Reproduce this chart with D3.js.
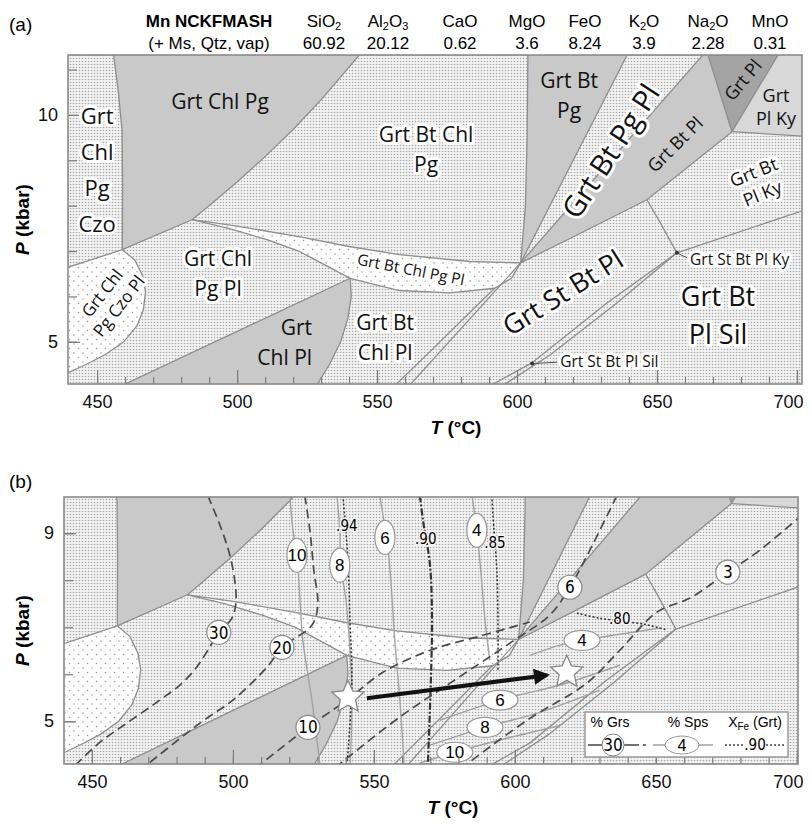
<!DOCTYPE html>
<html>
<head>
<meta charset="utf-8">
<script src="https://cdn.jsdelivr.net/npm/d3@7"></script>
<style>
  body { margin: 0; background: #fff; }
  svg { display: block; font-family: "Liberation Sans", Arial, sans-serif; }
  .field { font-family: "Open Sans", "Noto Sans", sans-serif; fill: #111; }
  .cond { font-family: "Liberation Sans Narrow", "DejaVu Sans Condensed", "Roboto", sans-serif; }
</style>
</head>
<body>
<div id="chart"></div>
<script>
// bulk composition (wt%), "_" marks a subscript digit
const oxides = ["SiO_2", "Al_2O_3", "CaO", "MgO", "FeO", "K_2O", "Na_2O", "MnO"];
const oxideWt = ["60.92", "20.12", "0.62", "3.6", "8.24", "3.9", "2.28", "0.31"];
const headerX = [324, 388, 460, 527, 585, 644, 708, 770];

const tLabels = [450, 500, 550, 600, 650, 700];
const tMinor = d3.range(450, 701, 10);

// invariant points [T °C, P kbar]
const ptA = [459.0, 7.03];
const ptB = [483.9, 7.69];
const ptC = [540.4, 6.40];
const ptD = [601.3, 6.74];
const ptE = [657.1, 6.96];
const ptF = [676.8, 9.63];
const ptG = [646.4, 8.13];

// phase boundaries
const czoOut = [[455.7, 11.4], [457.5, 10.55], [458.9, 9.67], [459.1, 8.5], ptA];
const czoPlTop = [[439, 6.63], ptA];
const czoPlCurve = [ptA, [463.5, 6.8], [466.3, 6.45], [467.3, 6.1], [466.5, 5.7], [464.2, 5.35], [459.5, 5.0], [453, 4.72], [446, 4.5], [439, 4.3]];
const plInLeft = [ptA, ptB];
const chlPgOut = [ptB, [490, 8.0], [500, 8.52], [510, 9.08], [520, 9.68], [530, 10.33], [544.8, 11.4]];
const bandTop = [ptB, [500, 7.55], [522.5, 7.31], [540, 7.1], [558, 6.92], [583, 6.77], ptD];
const bandBottom = [ptB, [497, 7.5], [510.7, 7.25], [522, 7.0], [530, 6.74], ptC, [550, 6.25], [558, 6.13], [576, 6.08], [592, 6.18], [598, 6.4], ptD];
const chlPlLeft = [ptC, [457.6, 4.0]];
const chlPlRight = [ptC, [540.8, 6.0], [539.5, 5.5], [537, 5.0], [533, 4.5], [528, 4.0]];
const chlOut = [[555.8, 4.0], [570, 4.85], [585, 5.76], [592, 6.18]];
const stIn = [[561, 4.0], [580, 5.29], ptD, [620, 7.31], ptG];
const bgpLeft = [[603.9, 11.4], [603.6, 9.5], [603, 8.0], ptD];
const bgpRight = [[640, 11.4], ptD];
const bplLeft = [[667.5, 11.4], ptD];
const btOut = [[667.8, 11.4], ptF];
const plRight = [[694, 11.4], ptF];
const plKyBottom = [ptF, [702.5, 9.53]];
const kyIn = [ptF, ptG];
const stOutUp = [ptG, [651.1, 7.63], ptE];
const kySil = [ptE, [702.5, 7.9]];
const stOut = [ptE, [632, 5.85], [605.4, 4.54], [589.5, 4.0]];
const silOut = [ptE, [635, 5.82], [612, 4.72], [594, 4.0]];

const boundaries = [czoOut, czoPlTop, czoPlCurve, plInLeft, chlPgOut, bandTop, bandBottom,
  chlPlLeft, chlPlRight, chlOut, stIn, bgpLeft, bgpRight, bplLeft, btOut, plRight,
  plKyBottom, kyIn, stOutUp, kySil, stOut, silOut];

// shaded fields
const fields = [
  { kind: "dark", pts: [[455.7, 11.4], ...czoOut.slice(1), ...chlPgOut] },
  { kind: "sparse", pts: [...czoPlTop, ...czoPlCurve.slice(1)] },
  { kind: "sparse", pts: [...bandTop, ...bandBottom.slice(1, -1).reverse()] },
  { kind: "dark", pts: [...chlPlRight, [457.6, 4.0]] },
  { kind: "dark", pts: [...bgpLeft, [640, 11.4]] },
  { kind: "dark", pts: [[667.5, 11.4], ptD, [620, 7.31], ptG, ptF, [667.8, 11.4]] },
  { kind: "darker", pts: [[667.8, 11.4], ptF, [694, 11.4]] },
  { kind: "light", pts: [[694, 11.4], ptF, [702.5, 9.53], [702.5, 11.4]] }
];

// field names in panel (a)
const fieldLabels = [
  { lines: ["Grt", "Chl", "Pg", "Czo"], T: 450, P: 8.77, cls: "col", halo: 1 },
  { lines: ["Grt Chl Pg"], T: 493.9, P: 10.29, cls: "lg" },
  { lines: ["Grt Bt Chl", "Pg"], T: 567.5, P: 9.23, cls: "lg", halo: 1 },
  { lines: ["Grt Chl", "Pg Pl"], T: 493.2, P: 6.5, cls: "lg", halo: 1 },
  { lines: ["Grt", "Chl Pl"], T: 526.8, P: 4.98, cls: "lg", anchor: "end" },
  { lines: ["Grt Bt", "Chl Pl"], T: 552.9, P: 5.1, cls: "lg", halo: 1 },
  { lines: ["Grt Chl", "Pg Czo Pl"], T: 454.8, P: 5.93, cls: "mds", rot: -52, halo: 1 },
  { lines: ["Grt Bt Chl Pg Pl"], T: 562.1, P: 6.59, cls: "sm", rot: 11, halo: 1 },
  { lines: ["Grt Bt", "Pg"], T: 618.6, P: 10.42, cls: "lg" },
  { lines: ["Grt Bt Pg Pl"], T: 633.5, P: 9.2, cls: "xxl", rot: -57, halo: 1 },
  { lines: ["Grt Bt Pl"], T: 656.5, P: 9.35, cls: "md", rot: -45 },
  { lines: ["Grt Pl"], T: 680.7, P: 10.77, cls: "md", rot: -50 },
  { lines: ["Grt", "Pl Ky"], T: 692.5, P: 10.18, cls: "md" },
  { lines: ["Grt Bt", "Pl Ky"], T: 686.1, P: 8.5, cls: "md", rot: -22, halo: 1 },
  { lines: ["Grt St Bt Pl"], T: 616.4, P: 6.08, cls: "xl", rot: -32, halo: 1 },
  { lines: ["Grt Bt", "Pl Sil"], T: 671.8, P: 5.57, cls: "xl", halo: 1 },
  { lines: ["Grt St Bt Pl Ky"], T: 661.8, P: 6.81, cls: "sm", anchor: "start", halo: 1 },
  { lines: ["Grt St Bt Pl Sil"], T: 615.4, P: 4.56, cls: "sm", anchor: "start", halo: 1 }
];
const pointers = [[ptE, [660.8, 6.85]], [[605.4, 4.52], [614.3, 4.55]]];

// panel (b): isopleths
const grsLines = [
  { v: "30", at: [495, 6.89], pts: [[491.1, 9.8], [496.1, 9.06], [499.6, 8.36], [501.1, 7.57], [499.6, 7.19], [495, 6.89], [491.1, 6.51], [486.9, 6.13], [481.2, 5.77], [474.1, 5.45], [462.4, 4.96], [452.8, 4.55], [443, 4.0]] },
  { v: "20", at: [517.4, 6.57], pts: [[525.5, 9.8], [527.3, 9.06], [528.7, 8.21], [530.1, 7.47], [528, 7.04], [517.4, 6.57], [512.1, 6.15], [500, 5.45], [488.3, 4.96], [468, 4.0]] },
  { v: "10", at: [526.6, 4.87], pts: [[508, 4.0], [518.4, 4.49], [526.6, 4.87], [540.4, 5.45], [553.2, 6.04], [569.9, 6.51], [587.6, 6.81], [605.3, 7.11]] },
  { v: "6", at: [619.5, 7.85], pts: [[636.2, 9.8], [630.1, 9.06], [624.8, 8.43], [619.5, 7.85], [612.4, 7.26], [598.2, 6.66], [577, 5.81], [559.2, 5.09], [536, 4.0]] },
  { v: "3", at: [675.5, 8.17], pts: [[702, 9.4], [686.9, 8.64], [675.5, 8.17], [662.1, 7.62], [650.4, 7.32], [637.2, 6.51], [625.5, 5.81], [604.3, 5.02], [581, 4.0]] }
];
const spsLines = [
  { v: "10", at: [522.7, 8.53], up: 1, pts: [[520.2, 9.8], [521.3, 9.06], [522.7, 8.53], [523.8, 7.57], [524.8, 6.72], [528, 5.45], [531, 4.0]] },
  { v: "8", at: [537.9, 8.32], up: 1, pts: [[536.9, 9.8], [537.9, 9.06], [538.3, 8.32], [540.1, 7.57], [541.5, 6.51], [542.2, 5.45], [541.5, 4.0]] },
  { v: "6", at: [553.9, 8.91], up: 1, pts: [[552.1, 9.8], [553.5, 9.28], [554.6, 8.91], [556, 8.0], [557.4, 6.72], [559.2, 5.45], [560.8, 4.0]] },
  { v: "4", at: [586.5, 9.06], up: 1, pts: [[584.8, 9.8], [585.8, 9.38], [586.5, 9.06], [587.9, 8.21], [589.4, 7.15], [591.1, 6.3]] },
  { v: "4", at: [623.8, 6.72], pts: [[605.3, 6.4], [616, 6.62], [623.8, 6.72], [637.2, 6.85], [651.4, 6.98]] },
  { v: "6", at: [594.7, 5.45], pts: [[573.4, 5.02], [594.7, 5.45], [616, 5.77], [637.2, 6.19]] },
  { v: "8", at: [589.4, 4.87], pts: [[569.9, 4.49], [589.4, 4.87], [608.9, 5.19], [630.1, 5.66]] },
  { v: "10", at: [578.7, 4.34], pts: [[566.3, 4.11], [578.7, 4.34], [594.7, 4.6], [616, 4.91]] }
];
const xfeLines = [
  { v: ".94", at: [540.4, 9.17], pts: [[539, 9.8], [540.8, 8.43], [541.5, 7.15], [542.2, 5.87], [540.4, 4.0]] },
  { v: ".90", at: [568.4, 8.89], pts: [[566.3, 9.8], [567.4, 9.28], [569.9, 8.32], [570.6, 7.15], [570.2, 5.87], [569.1, 4.0]] },
  { v: ".85", at: [592.9, 8.79], pts: [[591.8, 9.8], [592.6, 9.06], [593.6, 8.21], [594, 7.15], [594, 6.09]] },
  { v: ".80", at: [637.2, 7.19], pts: [[622, 7.3], [630.1, 7.19], [646.1, 7.06], [653.9, 6.94]] }
];
const stars = [[540.8, 5.51], [618.4, 6.04]];
const path = [[547.5, 5.49], [611.3, 5.98]];

const panels = [
  { id: "a", x0: 68, x1: 802, y0: 55, y1: 384, T: [439.6, 701.8], P: [4.07, 11.32], pTicks: d3.range(5, 12), pLabels: [5, 10], tag: "(a)", tagY: 31, tx: 456 },
  { id: "b", x0: 64, x1: 798, y0: 497, y1: 764, T: [440.1, 700.4], P: [4.09, 9.77], pTicks: d3.range(5, 10), pLabels: [5, 9], tag: "(b)", tagY: 488, tx: 453 }
];

const fills = { dark: "#c9c9c9", darker: "#a4a4a4", light: "#d8d8d8", sparse: "url(#sparse)" };
const labelFont = { col: [22, 36], lg: [21, 30], xl: [27, 38], xxl: [29, 38], md: [18, 23], mds: [17, 21], sm: [15.5, 18] };

const svg = d3.select("#chart").append("svg").attr("width", 810).attr("height", 824);
const defs = svg.append("defs");

const fine = defs.append("pattern").attr("id", "fine").attr("width", 3).attr("height", 3)
  .attr("patternUnits", "userSpaceOnUse");
fine.append("rect").attr("width", 3).attr("height", 3).attr("fill", "#f3f3f3");
fine.append("circle").attr("cx", 1.5).attr("cy", 1.5).attr("r", 0.8).attr("fill", "#a6a6a6");

const sparse = defs.append("pattern").attr("id", "sparse").attr("width", 9).attr("height", 9)
  .attr("patternUnits", "userSpaceOnUse");
sparse.append("rect").attr("width", 9).attr("height", 9).attr("fill", "#fdfdfd");
sparse.append("circle").attr("cx", 2).attr("cy", 2).attr("r", 0.75).attr("fill", "#9a9a9a");
sparse.append("circle").attr("cx", 6.5).attr("cy", 6.5).attr("r", 0.75).attr("fill", "#9a9a9a");

// write "SiO_2" style names with subscripts
function chem(text, s) {
  let shift = 0;
  s.split(/(_\d)/).filter(p => p).forEach(p => {
    if (p[0] === "_") {
      text.append("tspan").attr("font-size", 11).attr("dy", 3).text(p[1]);
      shift = -3;
    } else {
      text.append("tspan").attr("dy", shift).text(p);
      shift = 0;
    }
  });
}

function starPath(cx, cy, R, r) {
  const pts = d3.range(10).map(i => {
    const a = -Math.PI / 2 + i * Math.PI / 5, rr = i % 2 ? r : R;
    return [cx + rr * Math.cos(a), cy + rr * Math.sin(a)];
  });
  return "M" + pts.join("L") + "Z";
}

// header
svg.append("text").attr("x", 209).attr("y", 27).attr("text-anchor", "middle")
  .style("font-size", "17px").style("font-weight", "bold").text("Mn NCKFMASH");
svg.append("text").attr("x", 209).attr("y", 49).attr("text-anchor", "middle")
  .style("font-size", "17px").text("(+ Ms, Qtz, vap)");
oxides.forEach((o, i) => {
  const t = svg.append("text").attr("x", headerX[i]).attr("y", 27).attr("text-anchor", "middle")
    .style("font-size", "17px");
  chem(t, o);
  svg.append("text").attr("x", headerX[i]).attr("y", 49).attr("text-anchor", "middle")
    .style("font-size", "17px").text(oxideWt[i]);
});

panels.forEach(cfg => {
  const x = d3.scaleLinear().domain(cfg.T).range([cfg.x0, cfg.x1]);
  const y = d3.scaleLinear().domain(cfg.P).range([cfg.y1, cfg.y0]);
  const line = d3.line().x(d => x(d[0])).y(d => y(d[1]));
  const smooth = d3.line().x(d => x(d[0])).y(d => y(d[1])).curve(d3.curveCatmullRom);
  const w = cfg.x1 - cfg.x0, h = cfg.y1 - cfg.y0;

  defs.append("clipPath").attr("id", "clip-" + cfg.id).append("rect")
    .attr("x", cfg.x0).attr("y", cfg.y0).attr("width", w).attr("height", h);

  const g = svg.append("g").attr("clip-path", `url(#clip-${cfg.id})`);
  g.append("rect").attr("x", cfg.x0).attr("y", cfg.y0).attr("width", w).attr("height", h)
    .attr("fill", "url(#fine)");

  g.selectAll("path.fld").data(fields).join("path").attr("class", "fld")
    .attr("d", d => line(d.pts) + "Z").attr("fill", d => fills[d.kind]);

  g.selectAll("path.bnd").data(boundaries).join("path").attr("class", "bnd")
    .attr("d", line).attr("fill", "none").attr("stroke", "#8e8e8e").attr("stroke-width", 1.3);

  // axes with inward ticks
  const xMinor = d3.axisBottom(x).tickValues(tMinor).tickSize(-7).tickFormat("");
  const xMajor = d3.axisBottom(x).tickValues(tLabels).tickSize(-14).tickPadding(11).tickFormat(d3.format("d"));
  const yMinor = d3.axisLeft(y).tickValues(cfg.pTicks).tickSize(-9).tickFormat("");
  const yMajor = d3.axisLeft(y).tickValues(cfg.pLabels).tickSize(-12).tickPadding(10).tickFormat(d3.format("d"));
  [xMinor, xMajor].forEach(a => svg.append("g").attr("transform", `translate(0,${cfg.y1})`).call(a));
  [yMinor, yMajor].forEach(a => svg.append("g").attr("transform", `translate(${cfg.x0},0)`).call(a));
  svg.selectAll(".domain").remove();
  svg.selectAll(".tick line").attr("stroke", "#7c7c7c").attr("stroke-width", 1.2);
  svg.selectAll(".tick text").style("font-size", "18px").attr("fill", "#111")
    .style("font-family", "'Liberation Sans', Arial, sans-serif")
    .filter(d => d === 700).attr("dx", -9);

  svg.append("rect").attr("x", cfg.x0).attr("y", cfg.y0).attr("width", w).attr("height", h)
    .attr("fill", "none").attr("stroke", "#8a8a8a").attr("stroke-width", 1.6);

  const tt = svg.append("text").attr("x", cfg.tx).attr("y", cfg.y1 + 50).attr("text-anchor", "middle")
    .style("font-size", "19px").style("font-weight", "bold");
  tt.append("tspan").style("font-style", "italic").text("T");
  tt.append("tspan").text(" (°C)");
  const pt = svg.append("text").attr("transform", `translate(22,${(cfg.y0 + cfg.y1) / 2}) rotate(-90)`)
    .attr("text-anchor", "middle").attr("dy", "0.35em").style("font-size", "19px").style("font-weight", "bold");
  pt.append("tspan").style("font-style", "italic").text("P");
  pt.append("tspan").text(" (kbar)");
  svg.append("text").attr("x", 9).attr("y", cfg.tagY).style("font-size", "19px").text(cfg.tag);

  if (cfg.id === "a") {
    const lab = svg.append("g").attr("class", "field");
    fieldLabels.forEach(l => {
      const [fs, lh] = labelFont[l.cls];
      const t = lab.append("text")
        .attr("transform", `translate(${x(l.T)},${y(l.P)}) rotate(${l.rot || 0})`)
        .attr("text-anchor", l.anchor || "middle").style("font-size", fs + "px");
      const n = l.lines.length;
      l.lines.forEach((s, i) => t.append("tspan").attr("x", 0)
        .attr("y", (i - (n - 1) / 2) * lh).attr("dy", "0.35em").text(s));
      if (l.halo) t.attr("stroke", "#fff").attr("stroke-width", 6)
        .attr("stroke-linejoin", "round").attr("paint-order", "stroke");
    });
    pointers.forEach(([p0, p1]) => {
      lab.append("line").attr("x1", x(p0[0])).attr("y1", y(p0[1])).attr("x2", x(p1[0])).attr("y2", y(p1[1]))
        .attr("stroke", "#555").attr("stroke-width", 1);
      lab.append("circle").attr("cx", x(p0[0])).attr("cy", y(p0[1])).attr("r", 2).attr("fill", "#333");
    });
  } else {
    const iso = g.append("g");
    iso.selectAll("path.sps").data(spsLines).join("path").attr("d", d => smooth(d.pts))
      .attr("fill", "none").attr("stroke", "#a2a2a2").attr("stroke-width", 1.4);
    iso.selectAll("path.xfe").data(xfeLines).join("path").attr("d", d => smooth(d.pts))
      .attr("fill", "none").attr("stroke", "#333")
      .attr("stroke-width", d => d.v === ".90" ? 2.2 : 1.6)
      .attr("stroke-dasharray", d => d.v === ".90" ? "7,2,2,2" : "2,2");
    iso.selectAll("path.grs").data(grsLines).join("path").attr("d", d => smooth(d.pts))
      .attr("fill", "none").attr("stroke", "#4a4a4a").attr("stroke-width", 1.7).attr("stroke-dasharray", "9,5");

    spsLines.forEach(d => {
      const cx = x(d.at[0]), cy = y(d.at[1]);
      iso.append("ellipse").attr("cx", cx).attr("cy", cy)
        .attr("rx", d.up ? 10 : 18).attr("ry", d.up ? 17 : 10)
        .attr("fill", "#fff").attr("stroke", "#999").attr("stroke-width", 1.2);
      iso.append("text").attr("x", cx).attr("y", cy).attr("dy", "0.36em").attr("text-anchor", "middle")
        .style("font-size", "17px").text(d.v);
    });
    grsLines.forEach(d => {
      const cx = x(d.at[0]), cy = y(d.at[1]);
      iso.append("circle").attr("cx", cx).attr("cy", cy).attr("r", 12)
        .attr("fill", "#fff").attr("stroke", "#8a8a8a").attr("stroke-width", 1.2);
      iso.append("text").attr("class", "cond").attr("x", cx).attr("y", cy).attr("dy", "0.36em")
        .attr("text-anchor", "middle").style("font-size", "17px").text(d.v);
    });
    xfeLines.forEach(d => {
      iso.append("text").attr("class", "cond").attr("x", x(d.at[0])).attr("y", y(d.at[1])).attr("dy", "0.36em")
        .attr("text-anchor", "middle").style("font-size", "15px")
        .attr("stroke", "#f3f3f3").attr("stroke-width", 3).attr("paint-order", "stroke").text(d.v);
    });

    // P-T path
    defs.append("marker").attr("id", "head").attr("viewBox", "0 0 10 10").attr("refX", 8).attr("refY", 5)
      .attr("markerWidth", 5).attr("markerHeight", 4).attr("orient", "auto")
      .append("path").attr("d", "M0,0L10,5L0,10Z").attr("fill", "#111");
    iso.append("path").attr("d", line(path)).attr("stroke", "#111").attr("stroke-width", 4)
      .attr("marker-end", "url(#head)");
    iso.selectAll("path.star").data(stars).join("path")
      .attr("d", d => starPath(x(d[0]), y(d[1]), 17, 8))
      .attr("fill", "#fff").attr("stroke", "#888").attr("stroke-width", 1.3);

    // legend
    const lx = cfg.x1 - 213, ly = cfg.y1 - 52;
    const lg = svg.append("g").attr("transform", `translate(${lx},${ly})`);
    lg.append("rect").attr("width", 203).attr("height", 45).attr("fill", "#fff")
      .attr("stroke", "#999").attr("stroke-width", 1.5);
    lg.append("text").attr("x", 25).attr("y", 15).attr("text-anchor", "middle").style("font-size", "14px").text("% Grs");
    lg.append("text").attr("x", 103).attr("y", 15).attr("text-anchor", "middle").style("font-size", "14px").text("% Sps");
    const xt = lg.append("text").attr("x", 170).attr("y", 15).attr("text-anchor", "middle").style("font-size", "14px");
    xt.append("tspan").text("X");
    xt.append("tspan").attr("font-size", 10).attr("dy", 3).text("Fe");
    xt.append("tspan").attr("dy", -3).text(" (Grt)");
    lg.append("path").attr("d", "M3,33H17M39,33H54M58,33H61").attr("stroke", "#444").attr("stroke-width", 1.6);
    lg.append("circle").attr("cx", 28).attr("cy", 33).attr("r", 11).attr("fill", "#fff").attr("stroke", "#888");
    lg.append("text").attr("class", "cond").attr("x", 28).attr("y", 33).attr("dy", "0.36em")
      .attr("text-anchor", "middle").style("font-size", "17px").text("30");
    lg.append("path").attr("d", "M68,33H128").attr("stroke", "#a2a2a2").attr("stroke-width", 1.4);
    lg.append("ellipse").attr("cx", 97).attr("cy", 33).attr("rx", 17).attr("ry", 9)
      .attr("fill", "#fff").attr("stroke", "#999");
    lg.append("text").attr("x", 97).attr("y", 33).attr("dy", "0.36em").attr("text-anchor", "middle")
      .style("font-size", "16px").text("4");
    lg.append("path").attr("d", "M140,33H160M181,33H200").attr("stroke", "#444")
      .attr("stroke-width", 1.5).attr("stroke-dasharray", "2,2");
    lg.append("text").attr("class", "cond").attr("x", 170).attr("y", 33).attr("dy", "0.36em")
      .attr("text-anchor", "middle").style("font-size", "15px").text(".90");
  }
});
</script>
</body>
</html>
